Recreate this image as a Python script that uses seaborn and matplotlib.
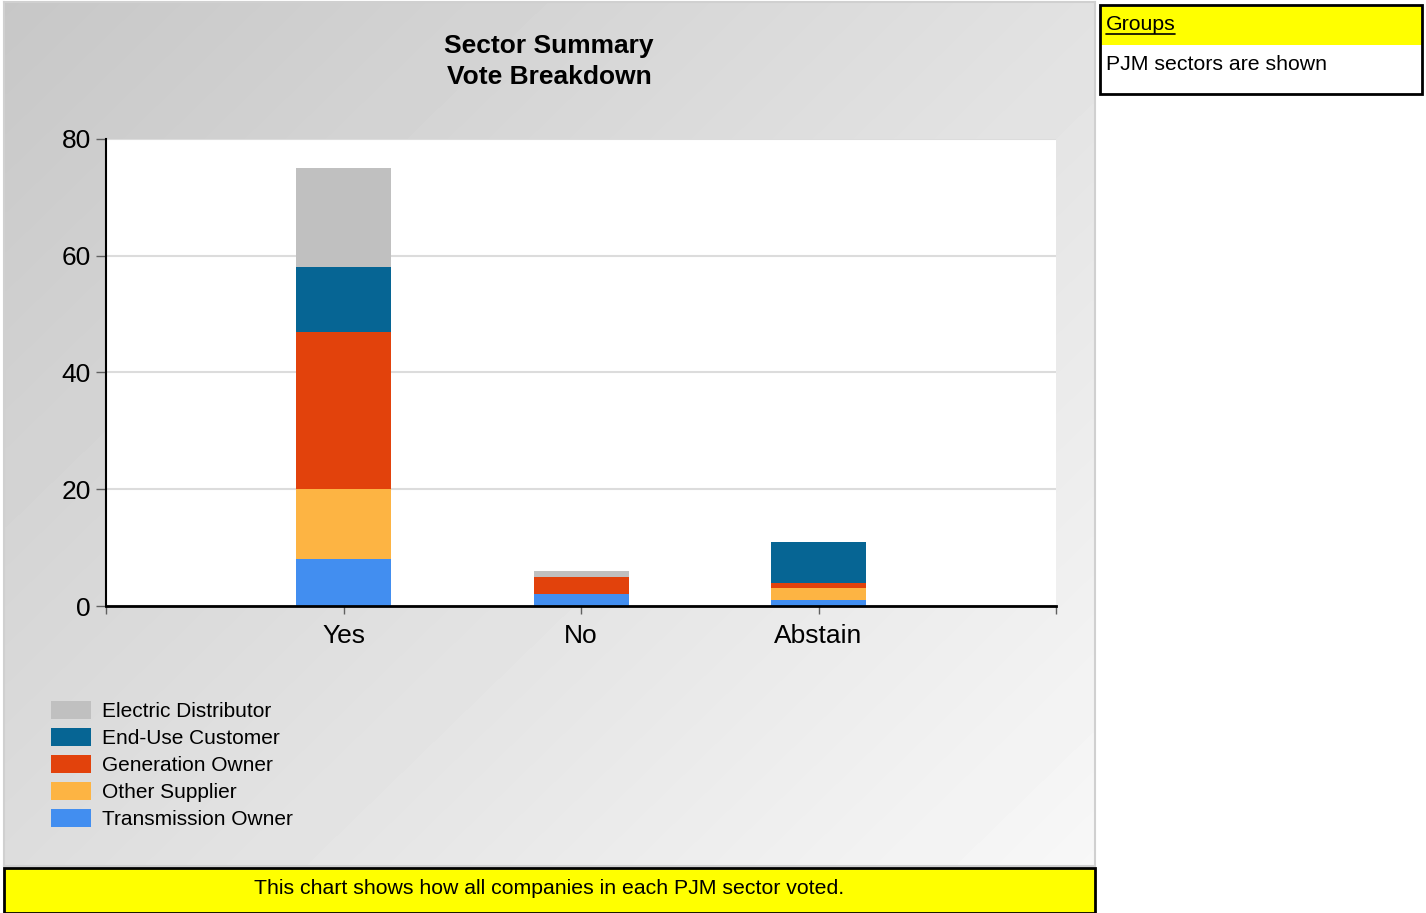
import numpy as np
import pandas as pd
import matplotlib
matplotlib.use("Agg")
import matplotlib.pyplot as plt
import seaborn as sns
from matplotlib.patches import Rectangle
from matplotlib.lines import Line2D

# data
votes = ["Yes", "No", "Abstain"]
sectors = ["Electric Distributor", "End-Use Customer", "Generation Owner",
           "Other Supplier", "Transmission Owner"]
electric_distributor = [17, 1, 0]
end_use_customer = [11, 0, 7]
generation_owner = [27, 3, 1]
other_supplier = [12, 0, 2]
transmission_owner = [8, 2, 1]
colors = ["#c0c0c0", "#066594", "#e2420c", "#fdb443", "#428ef0"]

sns.set_style("white")
plt.rcParams['font.family'] = ['Liberation Sans', 'DejaVu Sans']
plt.rcParams['text.color'] = 'black'
plt.rcParams['xtick.labelcolor'] = 'black'
plt.rcParams['ytick.labelcolor'] = 'black'

W, H = 1426, 913
fig = plt.figure(figsize=(W / 100, H / 100), dpi=100)


def box(x0, y0, x1, y1):
    # pixel box (top-left origin) -> figure fraction rect
    return [x0 / W, 1 - y1 / H, (x1 - x0) / W, (y1 - y0) / H]


def fx(x):
    return x / W


def fy(y):
    return 1 - y / H


# gradient background panel
bg = fig.add_axes(box(4, 2, 1095, 866))
gx, gy = np.meshgrid(np.linspace(0, 1, 200), np.linspace(0, 1, 200))
grad = 0.78 + 0.19 * (gx * 0.55 + gy * 0.45)
bg.imshow(grad, cmap="gray", vmin=0, vmax=1, aspect="auto",
          extent=[0, 1, 1, 0], interpolation="bilinear")
bg.set_xlim(0, 1)
bg.set_ylim(1, 0)
bg.set_xticks([])
bg.set_yticks([])
for s in bg.spines.values():
    s.set_color("#d0d0d0")
    s.set_linewidth(1.5)

# main plot
ax = fig.add_axes(box(106, 139, 1056, 606))
ax.set_facecolor("white")

df = pd.DataFrame({
    "vote": votes,
    "Transmission Owner": transmission_owner,
    "Other Supplier": other_supplier,
    "Generation Owner": generation_owner,
    "End-Use Customer": end_use_customer,
    "Electric Distributor": electric_distributor,
})
stack_order = ["Transmission Owner", "Other Supplier", "Generation Owner",
               "End-Use Customer", "Electric Distributor"]
cum = df[stack_order].cumsum(axis=1)
color_map = dict(zip(sectors, colors))

# draw cumulative totals, tallest first, so each segment shows
for sec in reversed(stack_order):
    sns.barplot(x=df["vote"], y=cum[sec], color=color_map[sec], width=0.4,
                linewidth=0, saturation=1, ax=ax, zorder=3)

ax.set_xlim(-1, 3)
ax.set_ylim(0, 80)
ax.set_yticks([0, 20, 40, 60, 80])
ax.set_xticks([-1, 0, 1, 2, 3])
ax.set_xticklabels(["", "Yes", "No", "Abstain", ""])
ax.set_xlabel("")
ax.set_ylabel("")
ax.yaxis.grid(True, color="#dcdcdc", linewidth=1.5, zorder=0)
ax.set_axisbelow(True)
ax.tick_params(axis="y", length=7, width=1, color="#606060", pad=4,
               labelsize=19, left=True)
ax.tick_params(axis="x", length=6, width=1, color="#606060", pad=7,
               labelsize=19, bottom=True)
for s in ["top", "right"]:
    ax.spines[s].set_visible(False)
ax.spines["left"].set_color("black")
ax.spines["left"].set_linewidth(1.5)
ax.spines["bottom"].set_color("black")
ax.spines["bottom"].set_linewidth(2)
ax.spines["bottom"].set_zorder(5)

# title
fig.text(fx(549), fy(46), "Sector Summary", ha="center", va="center",
         fontsize=19, fontweight="bold")
fig.text(fx(549), fy(77), "Vote Breakdown", ha="center", va="center",
         fontsize=19, fontweight="bold")

# legend
for i, (sec, col) in enumerate(zip(sectors, colors)):
    yc = 710 + 27 * i
    fig.patches.append(Rectangle((fx(51), fy(yc + 9)), 40 / W, 18 / H,
                                 transform=fig.transFigure, facecolor=col,
                                 edgecolor="none"))
    fig.text(fx(102), fy(yc + 1), sec, ha="left", va="center", fontsize=15)

# footer note
fig.patches.append(Rectangle((fx(4), 0), 1091 / W, (913 - 868) / H,
                             transform=fig.transFigure, facecolor="#ffff00",
                             edgecolor="black", linewidth=2))
fig.text(fx(549), fy(888), "This chart shows how all companies in each PJM sector voted.",
         ha="center", va="center", fontsize=15.3)

# groups box
fig.patches.append(Rectangle((fx(1100), fy(94)), 322 / W, 89 / H,
                             transform=fig.transFigure, facecolor="white",
                             edgecolor="none"))
fig.patches.append(Rectangle((fx(1100), fy(45)), 322 / W, 40 / H,
                             transform=fig.transFigure, facecolor="#ffff00",
                             edgecolor="none"))
fig.patches.append(Rectangle((fx(1100), fy(94)), 322 / W, 89 / H,
                             transform=fig.transFigure, facecolor="none",
                             edgecolor="black", linewidth=2))
fig.text(fx(1106), fy(24), "Groups", ha="left", va="center", fontsize=15.3)
fig.lines.append(Line2D([fx(1106), fx(1175)], [fy(34), fy(34)],
                        transform=fig.transFigure, color="black", linewidth=1.2))
fig.text(fx(1106), fy(64), "PJM sectors are shown", ha="left", va="center",
         fontsize=15.3)

fig.savefig("out.png", dpi=100)
